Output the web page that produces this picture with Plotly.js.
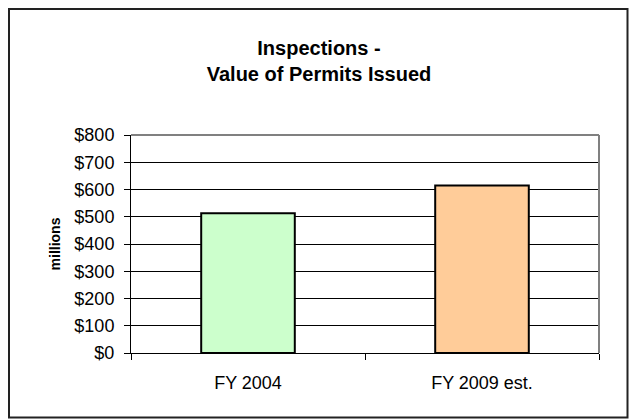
<!DOCTYPE html>
<html>
<head>
<meta charset="utf-8">
<script src="https://cdn.plot.ly/plotly-3.0.1.min.js"></script>
<style>html,body{margin:0;padding:0;background:#fff;}#chart{width:629px;height:419px;}</style>
</head>
<body>
<div id="chart"></div>
<script>
var categories = ["FY 2004", "FY 2009 est."];
var values = [513, 615];
var barColors = ["#CCFFCC", "#FFCC99"];
var yTickValues = [0, 100, 200, 300, 400, 500, 600, 700, 800];
var yTickLabels = ["$0", "$100", "$200", "$300", "$400", "$500", "$600", "$700", "$800"];

var W = 629, H = 419;
var mL = 131, mR = 30, mT = 135, mB = 66;
var pw = W - mL - mR, ph = H - mT - mB;
function px2x(p){ return (p - mL) / pw; }
function py2y(p){ return (H - mB - p) / ph; }

var font = "Arial, 'Liberation Sans', sans-serif";

var trace = {
  type: "bar",
  x: categories,
  y: values,
  width: 0.4,
  marker: {color: barColors, line: {color: "#000000", width: 2}},
  hoverinfo: "none"
};

var layout = {
  width: W, height: H,
  margin: {l: mL, r: mR, t: mT, b: mB, pad: 0},
  paper_bgcolor: "#ffffff",
  plot_bgcolor: "#ffffff",
  showlegend: false,
  font: {family: font, color: "#000000", size: 18},
  title: {
    text: "<b>Inspections -</b><br><b>Value of Permits Issued</b>",
    font: {family: font, size: 20, color: "#000000"},
    x: 319 / W, xref: "container", xanchor: "center",
    y: 1 - 55 / H, yref: "container", yanchor: "top"
  },
  xaxis: {
    type: "category",
    range: [-0.5, 1.5],
    showline: true, linecolor: "#000000", linewidth: 1,
    ticks: "outside", tickson: "boundaries", ticklen: 6, tickcolor: "#000000",
    showgrid: false, zeroline: false,
    tickfont: {family: font, size: 18, color: "#000000"},
    ticklabelstandoff: 13
  },
  yaxis: {
    range: [0, 800],
    tickvals: yTickValues, ticktext: yTickLabels,
    showline: true, linecolor: "#000000", linewidth: 1,
    ticks: "outside", ticklen: 6, tickcolor: "#000000",
    showgrid: true, gridcolor: "#000000", gridwidth: 1,
    zeroline: false,
    tickfont: {family: font, size: 18, color: "#000000"},
    ticklabelstandoff: 6,
    title: {text: "<b>millions</b>", font: {family: font, size: 14, color: "#000000"}, standoff: 10}
  },
  shapes: [
    {type: "line", xref: "paper", yref: "paper", x0: 0, x1: 1, y0: 1, y1: 1, line: {color: "#808080", width: 2}},
    {type: "line", xref: "paper", yref: "paper", x0: 1, x1: 1, y0: 0, y1: 1, line: {color: "#808080", width: 2}},
    {type: "rect", xref: "paper", yref: "paper", x0: px2x(9), x1: px2x(627.5), y0: py2y(417.5), y1: py2y(9), line: {color: "#222222", width: 2}, fillcolor: "rgba(0,0,0,0)", layer: "below"}
  ]
};

Plotly.newPlot("chart", [trace], layout, {displayModeBar: false, staticPlot: true});
</script>
</body>
</html>
